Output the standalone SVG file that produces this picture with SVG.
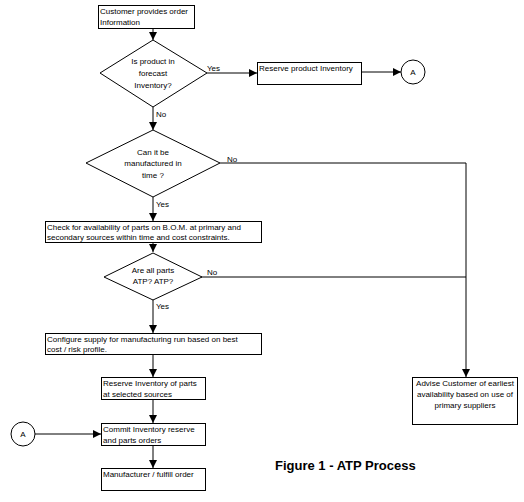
<svg xmlns="http://www.w3.org/2000/svg" width="524" height="502" viewBox="0 0 524 502">
<style>
.box{fill:#fff;stroke:#000;stroke-width:1}
.t{font-family:"Liberation Sans",Arial,sans-serif;font-size:8px;fill:#000}
.c{text-anchor:middle}
.ln{fill:none;stroke:#000;stroke-width:1}
.cap{font-family:"Liberation Sans",Arial,sans-serif;font-size:13px;font-weight:bold;fill:#000}
</style>
<defs>
<marker id="ah" viewBox="0 0 8 8" refX="8" refY="4" markerWidth="8" markerHeight="8" markerUnits="userSpaceOnUse" orient="auto">
<path d="M0,0 L8,4 L0,8 Z" fill="#000"/>
</marker>
</defs>
<rect width="524" height="502" fill="#fff"/>
<g id="connectors">
<line class="ln" x1="153" y1="29" x2="153" y2="40" marker-end="url(#ah)"/>
<line class="ln" x1="207" y1="73" x2="257" y2="73" marker-end="url(#ah)"/>
<line class="ln" x1="361" y1="72" x2="401" y2="72" marker-end="url(#ah)"/>
<line class="ln" x1="153" y1="107" x2="153" y2="130" marker-end="url(#ah)"/>
<polyline class="ln" points="220,163 466,163 466,377" marker-end="url(#ah)"/>
<line class="ln" x1="153" y1="197" x2="153" y2="221" marker-end="url(#ah)"/>
<line class="ln" x1="153" y1="242" x2="153" y2="252" marker-end="url(#ah)"/>
<line class="ln" x1="201" y1="277" x2="466" y2="277"/>
<line class="ln" x1="153" y1="299" x2="153" y2="333" marker-end="url(#ah)"/>
<line class="ln" x1="153" y1="354" x2="153" y2="377" marker-end="url(#ah)"/>
<line class="ln" x1="153" y1="399" x2="153" y2="423" marker-end="url(#ah)"/>
<line class="ln" x1="35" y1="434" x2="101" y2="434" marker-end="url(#ah)"/>
<line class="ln" x1="153" y1="445" x2="153" y2="468" marker-end="url(#ah)"/>
<text class="t" x="207" y="71">Yes</text>
<text class="t" x="156" y="117">No</text>
<text class="t" x="227" y="162">No</text>
<text class="t" x="156" y="207">Yes</text>
<text class="t" x="207" y="275">No</text>
<text class="t" x="156" y="309">Yes</text>
</g>
<g id="n1">
<rect class="box" x="98.5" y="5.5" width="96" height="23"/>
<text class="t" x="100" y="14">Customer provides order</text>
<text class="t" x="100" y="25">Information</text>
</g>
<g id="d1">
<polygon class="box" points="153,40 207,73 153,107 100,73"/>
<text class="t c" x="153" y="64">Is product in</text>
<text class="t c" x="153" y="76">forecast</text>
<text class="t c" x="153" y="88">Inventory?</text>
</g>
<g id="n2">
<rect class="box" x="257.5" y="62.5" width="104" height="22"/>
<text class="t" x="259" y="71">Reserve product Inventory</text>
</g>
<g id="a1">
<circle class="box" cx="413" cy="72" r="12"/>
<text class="t c" x="413" y="75">A</text>
</g>
<g id="d2">
<polygon class="box" points="153,130 220,163 153,197 86,163"/>
<text class="t c" x="153" y="155">Can it be</text>
<text class="t c" x="153" y="166">manufactured in</text>
<text class="t c" x="153" y="178">time ?</text>
</g>
<g id="n3">
<rect class="box" x="45.5" y="221.5" width="216" height="21"/>
<text class="t" x="47" y="230">Check for availability of parts on B.O.M. at primary and</text>
<text class="t" x="47" y="240">secondary sources within time and cost constraints.</text>
</g>
<g id="d3">
<polygon class="box" points="153,253 202,277 153,300 104,277"/>
<text class="t c" x="153" y="273">Are all parts</text>
<text class="t c" x="153" y="284">ATP? ATP?</text>
</g>
<g id="n4">
<rect class="box" x="45.5" y="333.5" width="216" height="21"/>
<text class="t" x="47" y="342">Configure supply for manufacturing run based on best</text>
<text class="t" x="47" y="352">cost / risk profile.</text>
</g>
<g id="n5">
<rect class="box" x="101.5" y="377.5" width="104" height="22"/>
<text class="t" x="103" y="386">Reserve Inventory of  parts</text>
<text class="t" x="103" y="397">at selected sources</text>
</g>
<g id="n6">
<rect class="box" x="101.5" y="423.5" width="104" height="22"/>
<text class="t" x="103" y="432">Commit Inventory reserve</text>
<text class="t" x="103" y="443">and parts orders</text>
</g>
<g id="a2">
<circle class="box" cx="23" cy="434" r="12"/>
<text class="t c" x="23" y="437">A</text>
</g>
<g id="n7">
<rect class="box" x="101.5" y="468.5" width="104" height="22"/>
<text class="t" x="103" y="477">Manufacturer / fulfill order</text>
</g>
<g id="n8">
<rect class="box" x="412.5" y="377.5" width="105" height="47"/>
<text class="t c" x="465" y="386">Advise Customer of earliest</text>
<text class="t c" x="465" y="397">availability based on use of</text>
<text class="t c" x="465" y="408">primary suppliers</text>
</g>
<text class="cap" x="275" y="470">Figure 1 - ATP Process</text>
</svg>
